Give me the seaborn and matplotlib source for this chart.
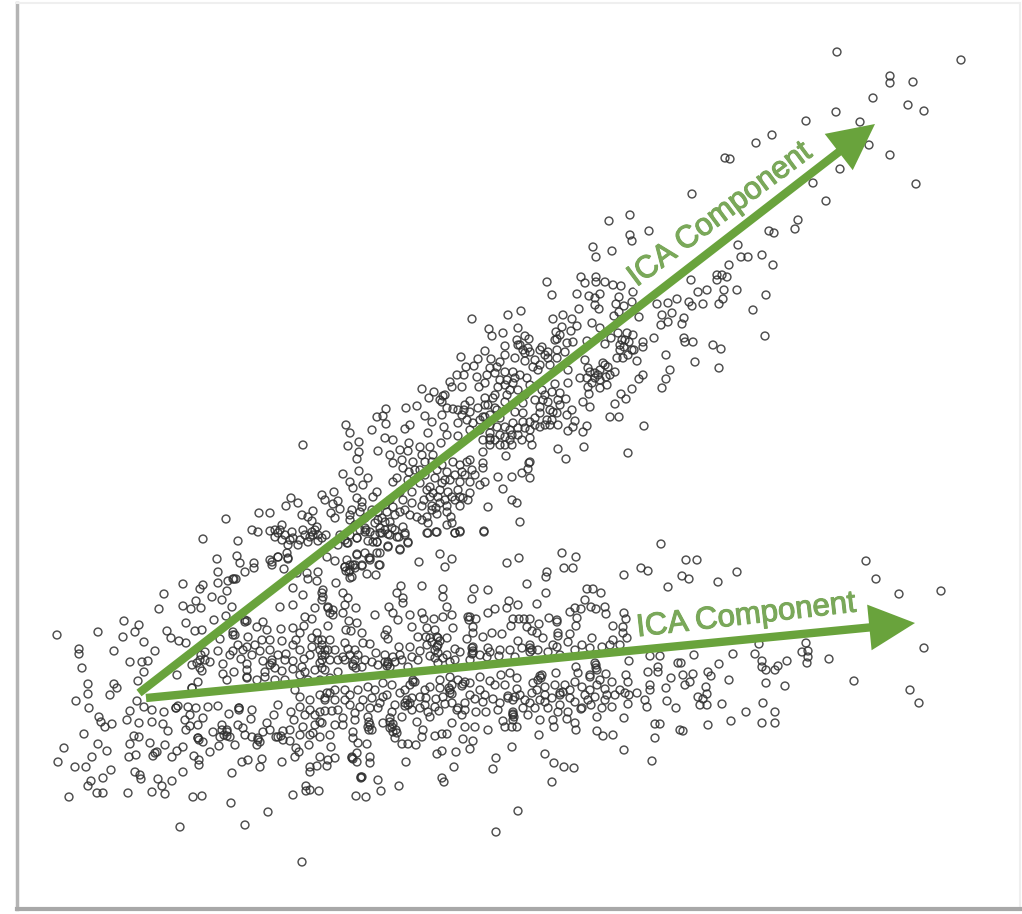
#!/usr/bin/env python3
#
# Two point clouds with their ICA component directions
#
import matplotlib
matplotlib.use('Agg')
import matplotlib.pyplot as plt
import matplotlib.patheffects as pe
import pandas
import seaborn

# Point values
lower_left = [
    (217,559),(237,556),(240,563),(254,563),(254,568),(245,572),(270,560),(272,565),(278,557),(218,572),
    (234,579),(228,581),(218,583),(227,591),(183,584),(203,585),(200,589),(164,594),(212,597),(222,600),
    (196,601),(183,606),(191,609),(201,608),(159,609),(232,607),(124,621),(139,625),(135,632),(98,632),
    (123,637),(144,642),(114,651),(155,651),(79,649),(79,654),(82,668),(130,662),(142,662),(148,661),
    (144,672),(138,681),(88,684),(114,684),(117,688),(110,695),(88,694),(76,701),(89,708),(137,701),
    (144,707),(152,710),(164,712),(130,711),(99,717),(101,722),(127,720),(105,727),(112,724),(139,723),
    (152,722),(163,724),(84,734),(168,731),(134,736),(139,737),(98,744),(107,751),(130,744),(150,743),
    (165,745),(64,748),(92,757),(129,757),(136,755),(153,756),(157,752),(172,757),(177,751),(183,747),
    (58,762),(75,767),(86,767),(111,770),(135,772),(140,775),(141,779),(103,778),(91,781),(88,786),
    (158,779),(172,781),(183,772),(162,786),(69,797),(97,793),(103,793),(128,793),(152,792),(165,794),
    (193,797),(202,796),(231,803),(232,773),(268,812),(245,825),(180,827),(302,862),(293,795),(319,791),
    (306,786),(306,791),(310,790),(282,762),(260,767),(262,759),(248,760),(242,762),(199,765),(199,760),
    (194,756),(57,635),
]
lower_between = [
    (167,631),(171,638),(179,641),(186,643),(195,631),(202,630),(186,623),(214,620),(226,616),(247,621),
    (263,622),(257,627),(267,630),(281,629),(293,628),(304,626),(233,635),(248,637),(220,639),(218,651),
    (233,651),(247,647),(260,651),(270,650),(282,641),(293,645),(317,633),(322,640),(312,647),(325,650),
    (286,654),(304,659),(322,655),(293,661),(223,664),(241,659),(247,664),(263,661),(272,663),(200,660),
    (205,652),(192,665),(210,662),(202,671),(177,675),(223,674),(227,680),(234,672),(247,677),(257,680),
    (265,677),(282,671),(293,669),(302,667),(315,670),(325,670),(198,682),(192,688),(288,558),(284,569),
    (297,573),(318,572),(307,573),(293,588),(308,579),(317,581),(336,583),(303,595),(323,590),(293,605),
    (280,607),(322,600),(328,608),(315,608),(305,617),(312,619),(328,626),(333,615),
]
lower_under = [
    (176,708),(188,707),(196,708),(208,707),(218,706),(229,714),(239,708),(252,710),(251,719),(274,715),
    (278,705),(291,712),(300,707),(310,710),(294,720),(325,711),(332,711),(325,698),(330,693),(322,723),
    (303,727),(267,723),(263,732),(243,728),(222,725),(227,730),(213,732),(220,737),(230,737),(235,745),
    (219,746),(210,752),(203,742),(198,738),(186,730),(190,726),(198,725),(203,718),(190,715),(185,720),
    (252,737),(258,740),(257,745),(276,737),(283,731),(283,740),(290,741),(296,748),(299,752),(295,757),
    (309,745),(313,733),(320,737),(331,747),(320,757),(328,760),(335,758),(317,766),(310,767),(310,772),
    (327,766),
]
lower_mid = [
    (661,544),(562,553),(576,557),(564,568),(573,568),(519,558),(507,563),(547,572),(546,577),(624,575),
    (641,568),(648,571),(668,587),(527,584),(440,554),(452,559),(445,567),(419,562),(400,550),(380,565),
    (369,558),(357,554),(367,574),(376,575),(422,586),(443,589),(443,597),(474,589),(488,590),(472,599),
    (401,586),(397,593),(403,598),(403,603),(546,593),(587,589),(593,589),(601,593),(537,604),(585,600),
    (509,601),(518,605),(507,608),(495,609),(488,613),(356,608),(375,615),(389,607),(393,613),(410,615),
    (422,613),(447,607),(452,615),(468,617),(476,619),(398,620),(424,619),(434,619),(443,617),(513,619),
    (519,619),(524,619),(530,619),(549,618),(557,622),(539,624),(511,626),(570,612),(575,608),(581,609),
    (591,607),(596,609),(605,607),(606,614),(624,613),(626,619),(577,618),(576,626),(613,626),(623,627),
    (412,627),(453,628),(473,627),(473,633),(349,621),(357,623),(346,630),(351,631),(362,633),(387,630),
    (385,635),(388,639),(427,628),(435,630),(426,637),(418,637),(438,638),(447,638),(467,639),(483,637),
    (492,633),(502,634),(527,627),(532,631),(537,633),(543,638),(558,633),(570,634),(592,638),(613,640),
    (627,638),(623,633),(518,641),(530,645),(553,645),(568,642),(582,645),(602,647),(345,643),(363,643),
    (370,644),(399,647),(410,647),(427,645),(437,647),(455,649),(473,647),(488,648),(348,649),(355,650),
    (376,653),(385,655),(393,657),(400,655),(420,651),(438,653),(447,655),(460,652),(473,653),(487,657),
    (499,656),(515,657),(530,652),(557,647),(343,657),(355,660),(362,667),(388,662),(390,667),(353,666),
    (418,660),(408,667),(438,663),(450,662),(629,661),(678,663),(650,656),(660,656),
]
lower_mid_under = [
    (576,667),(596,665),(578,673),(590,677),(597,670),(606,674),(626,675),(648,672),(658,667),(658,672),
    (671,678),(556,673),(542,675),(538,680),(533,683),(517,678),(510,673),(501,675),(490,681),(480,677),
    (470,683),(463,684),(450,677),(452,685),(458,680),(430,687),(413,682),(450,690),(383,683),(368,687),
    (345,690),(517,689),(560,693),(545,687),(532,693),(575,682),(582,687),(597,685),(605,689),(607,695),
    (620,690),(628,682),(629,695),(625,693),(637,693),(650,685),(650,690),(666,688),(645,700),(647,707),
    (667,701),(676,708),(628,704),(612,707),(602,708),(591,705),(595,697),(582,708),(570,698),(560,705),
    (548,708),(540,700),(530,703),(515,697),(508,696),(498,710),(493,699),(483,702),(485,695),(475,699),
    (476,712),(486,712),(465,710),(458,708),(452,703),(445,704),(439,711),(436,699),(426,698),(420,697),
    (420,708),(412,698),(405,703),(400,693),(387,695),(383,697),(372,698),(363,700),(378,708),(370,708),
    (355,713),(392,712),(402,717),(412,710),(428,712),(430,717),(457,710),(462,715),(513,712),(528,715),
    (540,720),(553,720),(558,712),(568,712),(567,719),(575,723),(576,730),(581,709),(597,717),(624,718),
    (597,731),(603,736),(613,735),(655,724),(660,724),(655,738),(624,750),(652,761),(680,730),(343,718),
    (343,725),(355,720),(353,732),(368,717),(368,727),(372,730),(383,723),(390,718),(392,727),(397,733),
    (395,738),(417,722),(423,730),(422,737),(416,745),(408,744),(402,744),(435,736),(442,734),(447,734),
    (452,723),(465,727),(475,727),(488,730),(503,721),(505,727),(512,727),(517,727),(513,714),(539,735),
    (554,727),(463,739),(473,741),(470,749),(456,752),(442,751),(437,754),(512,747),(496,758),(545,754),
    (554,763),(564,767),(574,768),(552,782),(493,769),(454,767),(406,762),(442,778),(444,782),(399,786),
    (378,780),(381,791),(361,777),(356,796),(366,797),(518,811),(496,832),(352,758),(357,762),(370,757),
    (370,763),(357,753),(367,744),(358,743),(353,738),
]
lower_right = [
    (686,560),(697,560),(866,561),(876,579),(899,594),(941,591),(737,572),(718,582),(689,579),(682,576),
    (924,648),(829,659),(854,681),(910,690),(919,703),(806,643),(808,651),(802,652),(808,657),(807,663),
    (787,661),(778,666),(775,670),(766,670),(762,667),(762,661),(755,654),(759,644),(733,654),(694,655),
    (719,664),(681,663),(708,672),(711,676),(693,674),(683,675),(729,680),(766,683),(785,686),(690,682),
    (685,685),(706,687),(707,694),(698,697),(703,699),(700,705),(707,705),(722,704),(763,703),(746,712),
    (775,712),(731,721),(762,723),(775,723),(708,725),(683,731),
]
lower_core = [
    (233,579),(236,579),(272,562),(201,655),(200,668),(205,660),(197,663),(245,622),(245,620),(235,635),
    (233,632),(247,670),(247,678),(265,672),(270,665),(272,660),(275,668),(322,593),(323,597),(328,607),
    (330,613),(333,610),(325,655),(328,650),(322,660),(320,663),(322,668),(192,688),(176,708),(178,706),
    (239,708),(239,710),(198,738),(199,740),(227,732),(227,736),(224,735),(222,730),(258,738),(260,742),
    (155,753),(278,737),(281,736),(325,700),(327,693),(350,570),(346,571),(352,577),(349,572),(355,565),
    (370,560),(470,617),(469,620),(473,651),(472,654),(472,648),(437,637),(430,638),(438,645),(435,650),
    (432,642),(440,641),(388,664),(387,666),(385,662),(353,664),(356,668),(557,620),(558,636),(530,648),
    (532,650),(413,680),(415,682),(410,685),(450,693),(452,694),(449,688),(462,686),(465,682),(513,715),
    (514,717),(513,720),(508,698),(513,700),(560,695),(563,692),(540,676),(541,678),(590,675),(596,668),
    (595,663),(369,722),(369,730),(370,725),(390,722),(393,724),(390,728),(393,732),(396,730),(407,700),
    (410,703),(408,705),(405,706),(352,757),(353,759),(362,777),(361,778),(350,655),(345,660),(358,655),
    (365,660),(372,662),(378,665),(395,662),(402,660),(412,657),(430,656),(435,658),(443,658),(455,660),
    (470,660),(480,655),(490,652),(500,650),(510,650),(522,648),(538,650),(548,652),(560,655),(575,650),
    (590,648),(610,645),(620,645),(350,695),(358,690),(375,690),(392,685),(405,690),(425,690),(440,688),
    (440,680),(470,695),(480,690),(495,685),(505,685),(520,695),(525,700),(537,690),(545,695),(555,685),
    (565,685),(570,690),(585,695),(590,690),(600,680),(612,682),(615,695),(345,700),(350,705),(360,707),
    (380,703),(395,705),(425,705),(435,707),(443,697),(465,703),(500,703),(523,708),(535,708),(545,702),
    (552,698),(575,702),(588,700),(605,700),(300,633),(312,638),(318,640),(322,645),(330,640),(335,650),
    (338,660),(330,660),(320,650),(310,655),(300,650),(296,640),(285,660),(278,655),(270,640),(262,640),
    (255,645),(252,655),(243,650),(238,645),(230,655),(275,680),(285,680),(300,675),(308,680),(320,680),
    (330,678),(338,672),(305,672),(335,690),(320,695),(295,690),(300,697),(310,700),(335,700),(338,710),
    (315,715),(305,715),(320,712),(335,725),(330,735),(320,722),(300,735),(315,725),(310,735),(290,730),
    (270,730),(245,735),(238,725),
]
upper_top = [
    (837,52),(961,60),(890,76),(890,83),(913,82),(873,98),(908,105),(924,111),(836,112),(806,121),
    (860,122),(756,143),(772,135),(869,145),(890,155),(725,158),(730,159),(840,169),(916,184),(813,183),
    (826,201),(692,194),(798,220),(795,229),(769,231),(774,233),(738,245),(741,257),(748,257),(762,255),
]
upper_right = [
    (630,215),(609,221),(630,235),(632,241),(649,231),(593,247),(596,257),(612,251),(773,265),(729,265),
    (691,280),(717,275),(717,280),(722,275),(727,277),(698,292),(707,290),(724,290),(737,290),(766,295),
    (723,299),(719,304),(703,304),(692,306),(689,302),(753,310),(765,336),(677,299),(668,303),(657,304),
    (672,313),(662,315),(668,322),(684,318),(682,324),(661,325),(639,317),(654,338),(684,338),(685,342),
    (693,342),(713,345),(721,349),(666,355),(695,362),(719,368),(670,370),(666,379),(662,388),(643,375),
    (639,379),(637,361),(643,347),(633,335),(643,342),(632,389),(621,394),(626,399),(615,404),(610,417),
    (619,417),(644,426),(628,453),(584,447),(558,449),(566,459),(529,463),(587,426),(583,432),(575,421),
    (573,427),(568,431),(590,407),(583,402),(589,394),(572,410),(566,399),(560,393),(555,384),(568,383),
]
upper_mid = [
    (547,282),(552,295),(581,277),(585,283),(596,277),(596,282),(605,282),(613,285),(621,286),(577,294),
    (589,296),(600,294),(595,298),(595,305),(599,309),(579,309),(619,297),(633,292),(616,304),(624,306),
    (632,302),(619,312),(614,316),(521,311),(508,315),(553,319),(563,315),(572,319),(592,323),(562,327),
    (577,326),(489,329),(518,328),(556,332),(571,331),(492,336),(503,333),(525,336),(517,340),(529,339),
    (557,339),(567,343),(573,342),(600,328),(611,338),(605,344),(587,341),(505,346),(518,345),(542,347),
    (548,352),(557,350),(565,352),(485,351),(505,355),(491,359),(525,353),(525,361),(530,352),(548,358),
    (557,358),(533,367),(538,370),(550,365),(618,333),(627,333),(622,340),(629,342),(624,347),(634,350),
    (617,358),(623,358),(603,363),(608,367),(615,372),(606,377),(607,385),(600,388),(592,383),(595,373),
    (588,368),(585,360),(580,378),(587,378),(568,370),(588,387),(497,367),(487,375),(495,373),(505,372),
    (513,372),(520,375),(527,378),(507,380),(513,383),(498,387),(485,383),(485,398),(493,398),(510,390),
    (507,395),(495,408),(523,403),(535,400),(542,390),(543,400),(548,402),(558,400),(552,392),(540,407),
    (523,413),(515,412),(523,422),(530,422),(540,427),(547,420),(558,425),(557,413),(567,415),(513,423),
    (505,427),(497,427),(490,433),(500,435),(510,430),(518,435),(522,440),(532,445),(530,438),(512,445),
    (505,445),(490,445),(506,456),(483,452),(483,463),(483,440),(485,417),
]
upper_low = [
    (472,319),(478,359),(461,357),(466,367),(474,366),(457,375),(464,375),(477,377),(479,387),(462,387),
    (452,387),(450,382),(470,401),(422,389),(434,392),(429,398),(443,396),(442,402),(447,408),(453,409),
    (464,410),(406,408),(417,406),(386,409),(377,417),(383,416),(386,424),(346,425),(350,433),(372,430),
    (410,425),(405,429),(425,416),(442,415),(432,422),(444,427),(458,423),(467,420),(473,423),(483,417),
    (303,445),(359,442),(348,446),(385,438),(393,440),(409,443),(428,433),(447,435),(458,436),(441,443),
    (378,451),(359,452),(357,459),(390,455),(400,450),(408,451),(420,447),(430,447),(433,455),(422,455),
    (393,463),(402,460),(413,462),(403,468),(409,472),(343,474),(359,471),(368,478),(350,482),(363,485),
    (353,488),(397,478),(393,482),(467,462),(483,468),(530,462),(528,469),(522,473),(530,478),(512,477),
    (498,477),(485,482),(480,485),(472,470),(462,472),(453,462),(447,472),(460,482),(470,482),(450,480),
    (442,483),(430,487),(427,490),(433,493),(448,492),(458,490),(470,493),(463,498),(452,497),(438,497),
    (503,489),(512,500),(517,503),(488,507),(520,522),(484,531),(460,506),(447,506),(447,512),(437,514),
    (432,506),(422,506),(412,503),(417,517),(422,520),(427,517),(451,517),(447,525),(452,523),(428,523),
    (460,531),(455,533),(436,532),(428,533),(400,492),(412,492),(403,500),(393,507),(400,512),(387,512),
]
upper_left = [
    (334,492),(322,495),(325,500),(338,501),(333,504),(340,509),(352,510),(350,515),(362,507),(362,502),
    (357,498),(377,492),(373,497),(291,498),(298,503),(286,506),(313,511),(302,515),(308,517),(312,521),
    (331,513),(335,518),(270,513),(259,513),(226,519),(282,525),(280,530),(270,531),(252,530),(258,532),
    (292,532),(303,530),(317,527),(275,537),(282,540),(293,538),(313,535),(318,541),(308,542),(298,545),
    (288,545),(238,541),(203,539),(287,553),(278,557),(288,559),(357,538),(347,543),(338,545),(366,530),
    (375,523),(382,518),(390,522),(403,527),(392,528),(382,533),(368,541),(377,542),(388,546),(400,549),
    (399,537),(408,542),(405,533),(380,553),(370,558),(365,553),(357,555),(347,560),(335,561),(327,557),
    (379,565),(362,565),(353,565),(345,567),(427,533),(437,532),(455,533),(460,532),(484,532),(408,543),
    (405,535),(397,537),(388,534),(380,533),(377,542),(373,542),(365,532),(357,538),(348,543),(388,547),
    (377,553),(350,565),(345,567),(355,568),(350,578),(362,566),(343,593),(348,598),(345,605),(343,613),
]
upper_core = [
    (420,470),(425,462),(432,462),(437,470),(442,465),(425,475),(435,478),(415,470),(408,480),(420,483),
    (445,480),(440,490),(430,497),(424,500),(440,503),(455,475),(460,465),(465,475),(470,460),(475,475),
    (455,500),(460,497),(468,500),(445,500),(432,510),(436,508),(275,530),(278,533),(285,535),(290,540),
    (300,540),(305,535),(310,537),(315,530),(312,532),(318,535),(322,538),(326,535),(350,520),(355,525),
    (360,512),(365,518),(372,510),(378,512),(385,505),(390,500),(360,530),(365,528),(370,532),(375,535),
    (380,528),(385,530),(390,535),(395,530),(385,522),(378,520),(395,515),(405,510),(410,515),(350,535),
    (345,540),(340,535),(440,400),(445,395),(458,410),(462,415),(465,405),(470,412),(478,408),(485,405),
    (490,415),(497,410),(505,402),(480,420),(490,425),(500,418),(470,430),(480,430),(490,438),(500,380),
    (505,385),(515,378),(518,390),(495,395),(488,405),(525,395),(530,385),(545,395),(550,410),(553,412),
    (540,413),(535,418),(530,430),(525,428),(518,428),(512,435),(505,437),(495,440),(490,440),(535,425),
    (560,405),(545,425),(550,425),(552,420),(500,445),(510,440),(520,345),(523,350),(528,348),(540,350),
    (545,355),(555,340),(560,335),(540,365),(535,360),(515,358),(500,362),(490,368),(600,370),(605,365),
    (598,375),(595,378),(600,380),(590,372),(610,375),(620,345),(625,340),(628,355),(632,350),(620,350),
]

# Component directions: start and tip
comp_upper = ((139, 693), (875, 124))
comp_lower = ((146, 698), (915, 623))
comp_label = 'ICA Component'

green = '#69a33c'
text_green = '#7aa85a'

plt.rcParams['font.family'] = ['Liberation Sans', 'DejaVu Sans']

points = (lower_left + lower_between + lower_under + lower_mid + lower_mid_under
          + lower_right + lower_core + upper_top + upper_right + upper_mid
          + upper_low + upper_left + upper_core)
df = pandas.DataFrame(points, columns=['x', 'y'])

fig = plt.figure(figsize=(10.22, 9.14), dpi=100)
ax = fig.add_axes([17 / 1022, 1 - 909 / 914, (1020 - 17) / 1022, (909 - 3) / 914])

seaborn.scatterplot(
    data=df, x='x', y='y', ax=ax, marker='o', s=32, facecolor='none',
    edgecolor='#303030', linewidth=1.05, alpha=0.85, legend=False)

ax.set_xlim(17, 1020)
ax.set_ylim(909, 3)
ax.set_xticks([])
ax.set_yticks([])
ax.set_xlabel('')
ax.set_ylabel('')

# Picture frame, darker on the left and bottom
ax.spines['left'].set(color='#b4b4b4', linewidth=2.5)
ax.spines['bottom'].set(color='#a8a8a8', linewidth=3)
ax.spines['top'].set(color='#efefef', linewidth=1.5)
ax.spines['right'].set(color='#efefef', linewidth=1.5)

effects = [
    pe.withStroke(linewidth=7, foreground='white'),
    pe.withStroke(linewidth=0.8, foreground=text_green),
]
ax.text(720, 215, comp_label, rotation=36.7, rotation_mode='anchor', ha='center',
        va='center', fontsize=22.5, color=text_green, path_effects=effects)
ax.text(746, 616, comp_label, rotation=6.5, rotation_mode='anchor', ha='center',
        va='center', fontsize=22.5, color=text_green, path_effects=effects)

for start, tip in (comp_upper, comp_lower):
    ax.annotate(
        '', xy=tip, xytext=start,
        arrowprops=dict(width=6, headwidth=33, headlength=33, shrink=0,
                        facecolor=green, edgecolor=green, linewidth=0))

plt.savefig('out.png')
